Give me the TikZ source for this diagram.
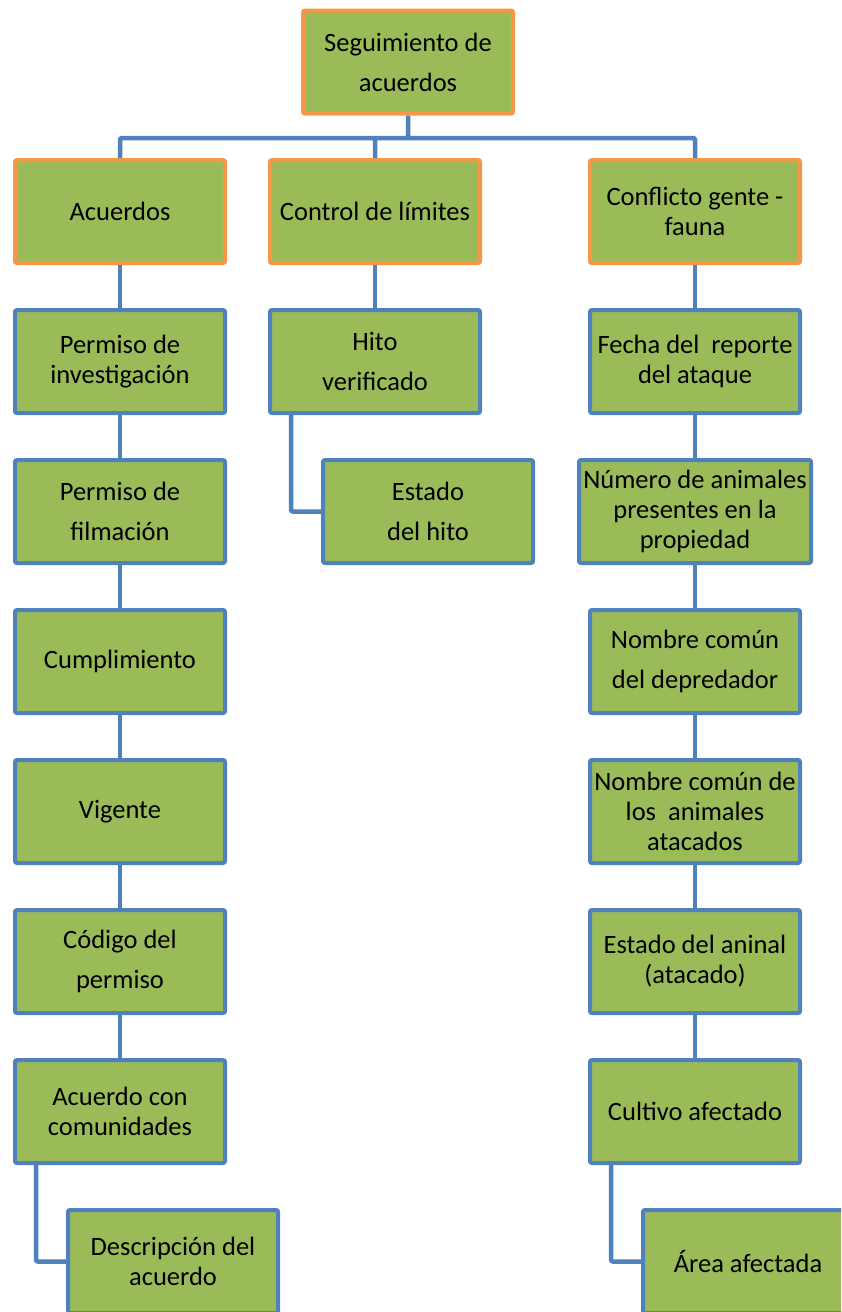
\documentclass[tikz,border=0pt]{standalone}
\usepackage{fontspec}
\setmainfont{Carlito}
\usetikzlibrary{positioning}
\definecolor{leafgreen}{HTML}{9BBB59}
\definecolor{headorange}{HTML}{F79646}
\definecolor{linkblue}{HTML}{4F81BD}
\tikzset{
	node distance=43pt, % gap between two boxes of one column
	every node/.style={font=\fontsize{26.5}{30}\selectfont}, % text size of every box
	every edge/.style={draw=linkblue, line width=4.5pt}, % the connectors
}

\begin{document}
\begin{tikzpicture}[x=1pt, y=1pt,
	headnode/.style={rectangle, draw=headorange, fill=leafgreen, line width=4pt, rounded corners=2pt, minimum width=210pt, minimum height=103pt, inner sep=2pt, align=center},
	fieldnode/.style={headnode, draw=linkblue},
	wide/.style={font=\fontsize{26.5}{40}\selectfont},
	child/.style={xshift=53pt},
	link/.style={draw=linkblue, line width=4.5pt, rounded corners=2pt},
	]
	\useasboundingbox (0,0) rectangle (841,-1312);
	\clip (0,0) rectangle (841,-1312);
	%Nodes
	\node[headnode, wide] (root) at (408,-62) {Seguimiento de\\acuerdos};

	\node[headnode] (acuerdos) at (120,-211.5) {Acuerdos};
	\node[headnode] (limites) at (375,-211.5) {Control de límites};
	\node[headnode] (conflicto) at (695,-211.5) {Conflicto gente -\\fauna};

	\node[fieldnode] (perminv) [below=of acuerdos] {Permiso de\\investigación};
	\node[fieldnode, wide] (permfilm) [below=of perminv] {Permiso de\\filmación};
	\node[fieldnode] (cumpl) [below=of permfilm] {Cumplimiento};
	\node[fieldnode] (vigente) [below=of cumpl] {Vigente};
	\node[fieldnode, wide] (codigo) [below=of vigente] {Código del\\permiso};
	\node[fieldnode] (acuerdocom) [below=of codigo] {Acuerdo con\\comunidades};
	\node[fieldnode] (descr) [below=of acuerdocom, child] {Descripción del\\acuerdo};

	\node[fieldnode, wide] (hito) [below=of limites] {Hito\\verificado};
	\node[fieldnode, wide] (estadohito) [below=of hito, child] {Estado\\del hito};

	\node[fieldnode] (fecha) [below=of conflicto] {Fecha del~ reporte\\del ataque};
	\node[fieldnode, minimum width=232pt] (numero) [below=of fecha] {Número de animales\\presentes en la\\propiedad};
	\node[fieldnode, wide] (depred) [below=of numero] {Nombre común\\del depredador};
	\node[fieldnode] (atacados) [below=of depred] {Nombre común de\\los~ animales\\atacados};
	\node[fieldnode] (estadoanim) [below=of atacados] {Estado del aninal\\(atacado)};
	\node[fieldnode] (cultivo) [below=of estadoanim] {Cultivo afectado};
	\node[fieldnode] (area) [below=of cultivo, child] {Área afectada};

	%Lines
	\coordinate (bus) at (root.south |- 0,-138);
	\draw[link] (root.south) -- (bus) -| (limites.north)
	(bus) -| (acuerdos.north)
	(bus) -| (conflicto.north);
	\draw (acuerdos) edge (perminv)
	(perminv) edge (permfilm)
	(permfilm) edge (cumpl)
	(cumpl) edge (vigente)
	(vigente) edge (codigo)
	(codigo) edge (acuerdocom)
	(limites) edge (hito)
	(conflicto) edge (fecha)
	(fecha) edge (numero)
	(numero) edge (depred)
	(depred) edge (atacados)
	(atacados) edge (estadoanim)
	(estadoanim) edge (cultivo)
	;
	\draw[link] ([xshift=23pt]acuerdocom.south west) |- (descr.west);
	\draw[link] ([xshift=23pt]hito.south west) |- (estadohito.west);
	\draw[link] ([xshift=23pt]cultivo.south west) |- (area.west);
\end{tikzpicture}
\end{document}
